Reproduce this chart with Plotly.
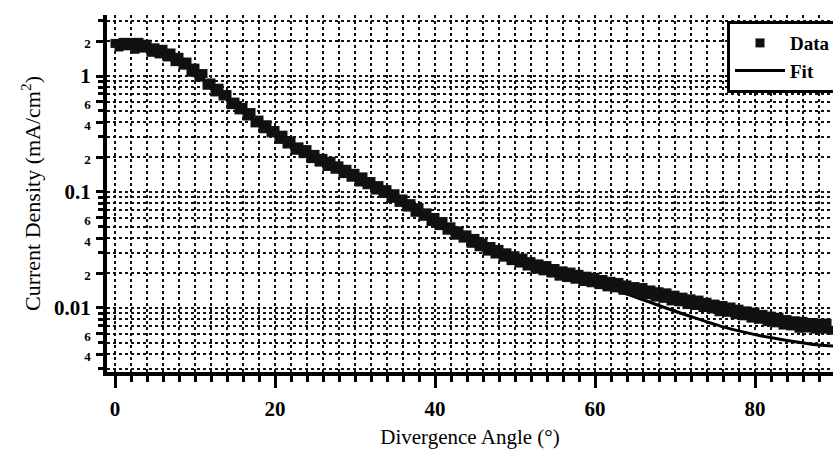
import plotly.graph_objects as go

# ---------------- data ----------------
angle = [i * 0.5 for i in range(180)]  # 0 .. 89.5 deg
density = [
    1.91, 1.78, 1.95, 1.82, 1.95, 1.70, 1.95, 1.74, 1.88, 1.60,
    1.75, 1.55, 1.70, 1.46, 1.58, 1.33, 1.45, 1.24, 1.32, 1.08,
    1.17, 0.977, 1.05, 0.832, 0.871, 0.729, 0.785, 0.672, 0.692, 0.566,
    0.596, 0.510, 0.537, 0.452, 0.484, 0.394, 0.417, 0.351, 0.380, 0.324,
    0.339, 0.284, 0.309, 0.259, 0.275, 0.229, 0.245, 0.214, 0.232, 0.194,
    0.211, 0.181, 0.195, 0.166, 0.184, 0.157, 0.168, 0.144, 0.157, 0.134,
    0.145, 0.122, 0.135, 0.1155, 0.123, 0.104, 0.1135, 0.0972, 0.1047, 0.0881,
    0.0966, 0.0813, 0.0871, 0.0741, 0.0794, 0.0668, 0.0733, 0.0617, 0.0661, 0.0556,
    0.0603, 0.0513, 0.0556, 0.0468, 0.0501, 0.0424, 0.0462, 0.0400, 0.0427, 0.0361,
    0.0398, 0.0337, 0.0363, 0.0309, 0.0339, 0.0292, 0.0320, 0.0274, 0.0299, 0.0256,
    0.0282, 0.0244, 0.0269, 0.0230, 0.0251, 0.0216, 0.0240, 0.0209, 0.0232, 0.0200,
    0.0219, 0.0188, 0.0209, 0.0183, 0.0204, 0.0177, 0.0195, 0.0169, 0.0188, 0.0165,
    0.0184, 0.0159, 0.0176, 0.0152, 0.0170, 0.0149, 0.0166, 0.0142, 0.0158, 0.0139,
    0.0153, 0.0133, 0.0150, 0.0130, 0.0143, 0.0124, 0.0138, 0.0121, 0.0135, 0.0115,
    0.0129, 0.0113, 0.0124, 0.0107, 0.0120, 0.0105, 0.0117, 0.0101, 0.0112, 0.00983,
    0.0108, 0.00928, 0.0105, 0.00917, 0.0102, 0.00876, 0.00977, 0.00856, 0.00944, 0.00818,
    0.00923, 0.00799, 0.00881, 0.00763, 0.00851, 0.00745, 0.00832, 0.00712, 0.00794, 0.00700,
    0.00776, 0.00668, 0.00767, 0.00672, 0.00750, 0.00657, 0.00741, 0.00657, 0.00741, 0.00642,
]

fit_angle = [0, 4, 8, 12, 16, 20, 24, 28, 32, 36, 40, 44, 48, 52, 56, 60,
             64, 68, 72, 76, 80, 84, 88, 90]
fit_density = [1.86, 1.78, 1.38, 0.832, 0.501, 0.316, 0.214, 0.158, 0.115,
               0.0813, 0.0562, 0.0398, 0.0295, 0.0234, 0.0195, 0.0163, 0.0132,
               0.0105, 0.00841, 0.00687, 0.00589, 0.00525, 0.00479, 0.00468]

x_tickvals = [0, 20, 40, 60, 80]
x_ticktext = ["0", "20", "40", "60", "80"]

y_tickvals = [2, 1, 0.6, 0.4, 0.2, 0.1, 0.06, 0.04, 0.02, 0.01, 0.006, 0.004]
y_ticklabels = ["2", "1", "6", "4", "2", "0.1", "6", "4", "2", "0.01", "6", "4"]
y_minorvals = [3, 0.9, 0.8, 0.7, 0.5, 0.3, 0.09, 0.08, 0.07, 0.05, 0.03,
               0.009, 0.008, 0.007, 0.005, 0.003]

# ---------------- figure ----------------
SERIF = "Liberation Serif"


def fmt_label(t):
    if t in ("1", "0.1", "0.01"):
        return "<b>" + t + "</b>"
    return "<span style='font-size:13px'><b>" + t + "</b></span>"


fig = go.Figure()
fig.add_trace(go.Scatter(
    x=fit_angle, y=fit_density, mode="lines", name="Fit",
    line=dict(color="black", width=3, shape="spline", smoothing=0.8),
    legendrank=2,
))
fig.add_trace(go.Scatter(
    x=angle, y=density, mode="markers", name="Data",
    marker=dict(symbol="square", size=9, color="#111111", line=dict(width=0)),
    legendrank=1,
))

grid_common = dict(gridcolor="#111111", griddash="dot", gridwidth=2)

fig.update_xaxes(
    range=[-1.0, 89.75],
    tickmode="array", tickvals=x_tickvals, ticktext=x_ticktext,
    ticks="outside", ticklen=12, tickwidth=3, tickcolor="black",
    tickfont=dict(family=SERIF, size=21, color="black", weight="bold"),
    ticklabelstandoff=3,
    showline=True, linecolor="black", linewidth=4,
    showgrid=True, **grid_common,
    minor=dict(dtick=2, tick0=0, ticks="outside", ticklen=6, tickwidth=3,
               tickcolor="black", showgrid=True, **grid_common),
    title=dict(text="Divergence Angle (°)",
               font=dict(family=SERIF, size=21, color="black"), standoff=10),
    zeroline=False,
)
fig.update_yaxes(
    type="log", range=[-2.552, 0.526],
    tickmode="array", tickvals=y_tickvals,
    ticktext=[fmt_label(t) for t in y_ticklabels],
    ticks="outside", ticklen=7, tickwidth=3, tickcolor="black",
    tickfont=dict(family=SERIF, size=21, color="black"),
    ticklabelstandoff=1,
    showline=True, linecolor="black", linewidth=4,
    showgrid=True, **grid_common,
    minor=dict(tickvals=y_minorvals, ticks="outside", ticklen=5, tickwidth=3,
               tickcolor="black", showgrid=True, **grid_common),
    title=dict(text="Current Density (mA/cm<sup>2</sup>)",
               font=dict(family=SERIF, size=22, color="black"), standoff=8),
    zeroline=False,
)

fig.update_layout(
    width=833, height=453,
    margin=dict(l=107, r=0, t=15, b=81, autoexpand=False),
    paper_bgcolor="white", plot_bgcolor="white",
    showlegend=True,
    legend=dict(
        x=0.854, y=0.983, xanchor="left", yanchor="top",
        bgcolor="white", bordercolor="black", borderwidth=3,
        font=dict(family=SERIF, size=19, color="black", weight="bold"),
        itemwidth=50, tracegroupgap=0,
    ),
)

fig.write_html("out.html")
